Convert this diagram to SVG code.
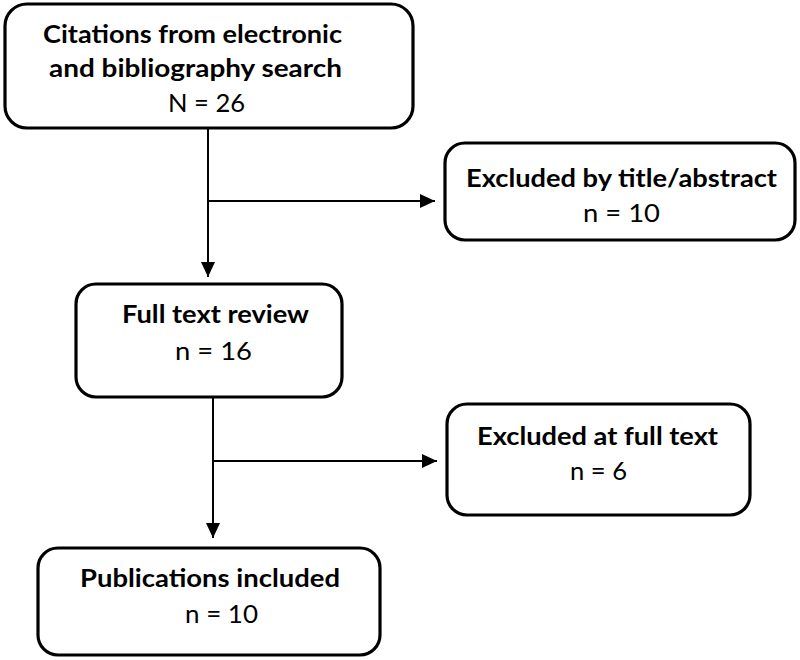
<svg xmlns="http://www.w3.org/2000/svg" width="800" height="660" viewBox="0 0 800 660">
<defs>
<style>
.box{fill:#fff;stroke:#000;stroke-width:3.2}
.t{font-family:Lato,"Open Sans","Liberation Sans",sans-serif;font-size:25px;fill:#000;text-anchor:middle}
.b{font-weight:bold}
.c{stroke:#000;stroke-width:2;fill:none}
</style>
<marker id="ah" markerUnits="userSpaceOnUse" markerWidth="16" markerHeight="15" refX="15" refY="7" orient="auto">
<path d="M0,0 L15,7 L0,14 z" fill="#000"/>
</marker>
</defs>
<rect width="800" height="660" fill="#fff"/>
<g id="connectors">
<line class="c" x1="208" y1="128" x2="208" y2="277" marker-end="url(#ah)"/>
<line class="c" x1="208" y1="201" x2="435" y2="201" marker-end="url(#ah)"/>
<line class="c" x1="213" y1="397" x2="213" y2="538" marker-end="url(#ah)"/>
<line class="c" x1="213" y1="461" x2="437" y2="461" marker-end="url(#ah)"/>
</g>
<g id="citations">
<rect class="box" x="5" y="4" width="408" height="124" rx="22"/>
<text class="t b" x="192.5" y="43" textLength="299" lengthAdjust="spacingAndGlyphs">Citations from electronic</text>
<text class="t b" x="195.5" y="77" textLength="293" lengthAdjust="spacingAndGlyphs">and bibliography  search</text>
<text class="t" x="206.5" y="112" textLength="77" lengthAdjust="spacingAndGlyphs">N = 26</text>
</g>
<g id="excluded-title">
<rect class="box" x="445" y="143" width="350" height="97" rx="20"/>
<text class="t b" x="621.5" y="187" textLength="311" lengthAdjust="spacingAndGlyphs">Excluded  by title/abstract</text>
<text class="t" x="621.5" y="222" textLength="77" lengthAdjust="spacingAndGlyphs">n = 10</text>
</g>
<g id="full-text">
<rect class="box" x="76" y="284" width="266" height="113" rx="20"/>
<text class="t b" x="215.5" y="323" textLength="187" lengthAdjust="spacingAndGlyphs">Full text review</text>
<text class="t" x="213.5" y="360" textLength="77" lengthAdjust="spacingAndGlyphs">n = 16</text>
</g>
<g id="excluded-full">
<rect class="box" x="447" y="404" width="303" height="111" rx="20"/>
<text class="t b" x="597.5" y="445" textLength="241" lengthAdjust="spacingAndGlyphs">Excluded  at full text</text>
<text class="t" x="598.5" y="480" textLength="57" lengthAdjust="spacingAndGlyphs">n = 6</text>
</g>
<g id="included">
<rect class="box" x="38" y="548" width="342" height="107" rx="20"/>
<text class="t b" x="210" y="587" textLength="260" lengthAdjust="spacingAndGlyphs">Publications  included</text>
<text class="t" x="221.5" y="623" textLength="73" lengthAdjust="spacingAndGlyphs">n = 10</text>
</g>
</svg>
